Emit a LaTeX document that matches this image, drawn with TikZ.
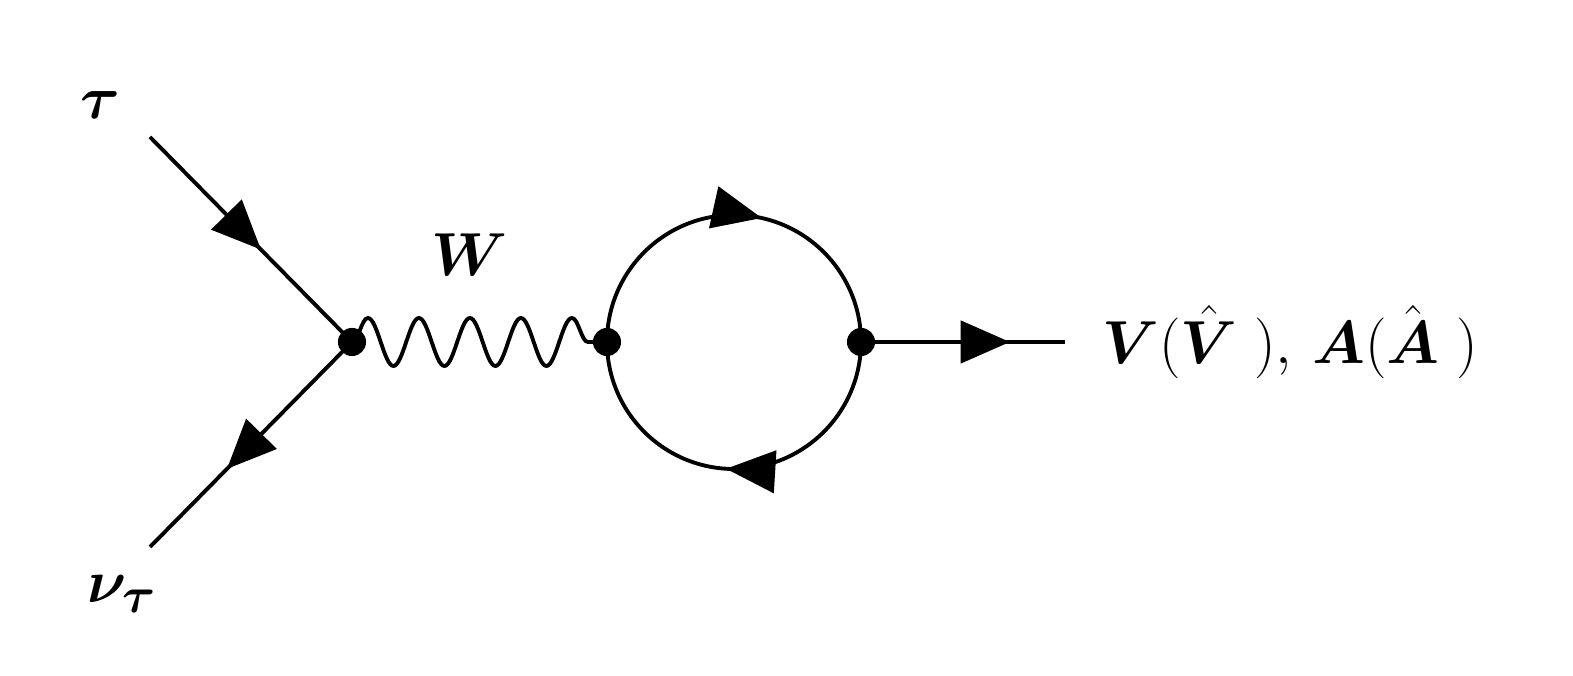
\documentclass[tikz,border=0pt]{standalone}
\usepackage{amsmath, amssymb}
\usetikzlibrary{decorations.markings, decorations.pathmorphing, arrows.meta}
\tikzset{%
	fermion/.style={line width=1.1pt, postaction={decorate}, decoration={markings,
		mark=at position #1 with {\arrow{Triangle[length=14pt,width=12pt]}}}},
	fermion/.default=0.5,
	boson/.style={line width=1.1pt, decorate, decoration={snake, amplitude=0.24cm, segment length=0.51cm}},
	vtx/.style={circle, fill, inner sep=0pt, minimum size=8pt},
	lbl/.style={font=\fontsize{19}{22}\selectfont}
}
\begin{document}
\begin{tikzpicture}[x=1cm,y=1cm]
	\useasboundingbox (0,0) rectangle (15.73,6.76);
	\coordinate (tau) at (1.50, 5.39);
	\coordinate (nu) at (1.50, 1.29);
	\coordinate (out) at (10.65, 3.34);
	\node [vtx] (v1) at (3.52, 3.34) {};
	\node [vtx] (v2) at (6.07, 3.34) {};
	\node [vtx] (v3) at (8.61, 3.34) {};
	\node [lbl] (ltau) at (1.00, 5.71) {$\boldsymbol{\tau}$};
	\node [lbl] (lnu) at (1.22, 0.82) {$\boldsymbol{\nu_\tau}$};
	\node [lbl] (lW) at (4.70, 4.21) {$\boldsymbol{W}$};
	\node [lbl, anchor=west] (lout) at (10.90, 3.34)
		{$\boldsymbol{V}(\hat{\boldsymbol{V}}\;),\,\boldsymbol{A}(\hat{\boldsymbol{A}}\;)$};
	\draw [fermion=0.55] (tau) -- (v1.center);
	\draw [fermion=0.62] (v1.center) -- (nu);
	\draw [boson] (v1.center) -- (v2.center);
	\draw [fermion=0.57] (v2.center) arc[start angle=180, end angle=0, radius=1.27];
	\draw [fermion=0.52] (v3.center) arc[start angle=0, end angle=-180, radius=1.27];
	\draw [fermion=0.73] (v3.center) -- (out);
\end{tikzpicture}
\end{document}
